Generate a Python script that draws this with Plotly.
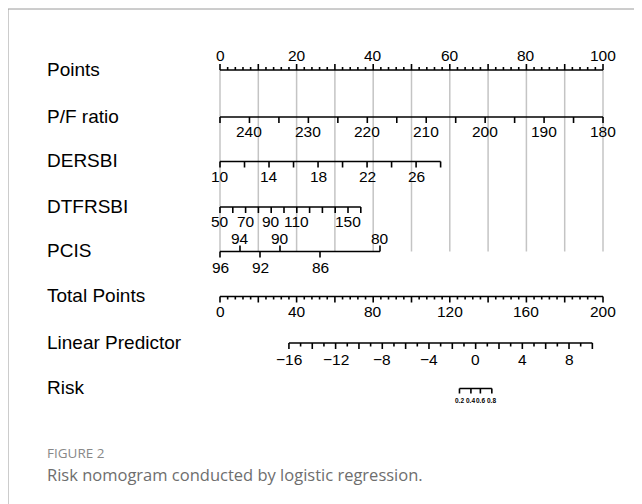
import math
import plotly.graph_objects as go

# the page body has an 8px margin, so the figure is drawn 8px in from the window corner
OFF = 8
W, H = 642 - OFF, 504 - OFF
PX0, PX100 = 220.0 - OFF, 603.0 - OFF   # pixel positions of 0 and 100 points
PPP = (PX100 - PX0) / 100.0             # pixels per point

# ---------------- data ----------------
row_names = ["Points", "P/F ratio", "DERSBI", "DTFRSBI", "PCIS",
             "Total Points", "Linear Predictor", "Risk"]

points_major = list(range(0, 101, 10))
points_minor = [v for v in range(0, 101, 2) if v % 10]
points_labels = [0, 20, 40, 60, 80, 100]

pf_ticks = [245, 240, 235, 230, 225, 220, 215, 210, 205, 200, 195, 190, 185, 180]
pf_labels = [240, 230, 220, 210, 200, 190, 180]

dersbi_ticks = [10, 12, 14, 16, 18, 20, 22, 24, 26, 28]
dersbi_labels = [10, 14, 18, 22, 26]

dtfrsbi_ticks = [50, 60, 70, 80, 90, 100, 110, 120, 130, 140, 150, 160]
dtfrsbi_labels = [50, 70, 90, 110, 150]

pcis_up = [94, 90, 80]
pcis_down = [96, 92, 86]

total_major = list(range(0, 201, 20))
total_minor = [v for v in range(0, 201, 4) if v % 20]
total_labels = [0, 40, 80, 120, 160, 200]

lp_ticks = list(range(-16, 11))
lp_labels = [-16, -12, -8, -4, 0, 4, 8]

risk_ticks = [0.2, 0.4, 0.6, 0.8]

# nomogram scales (value -> points)
def pf_pts(v): return (245 - v) * 100.0 / 65.0
def dersbi_pts(v): return (v - 10) * 3.2
def dtfrsbi_pts(v): return (v - 50) * 0.3342
def pcis_pts(v): return (96 - v) * 2.611
def total_pts(tp): return tp / 2.0
def lp_total(lp): return 133.5 + lp * 6.094
def lp_pts(lp): return total_pts(lp_total(lp))
def risk_pts(r): return lp_pts(math.log(r / (1 - r)))

# ---------------- layout positions (window pixels) ----------------
row_y = [70, 117, 161.5, 207, 251.5, 296.5, 343, 388.5]
row_y = [v - OFF for v in row_y]

def fmt(v):
    return str(v).replace("-", "\u2212")

lx, ly = [], []     # black lines
gx, gy = [], []     # grey reference lines
ann = []
FONT = "Liberation Sans, Arial, sans-serif"

def seg(x0, y0, x1, y1):
    lx.extend([x0, x1, None]); ly.extend([y0, y1, None])

def label(x, y, text, size=15.5):
    ann.append(dict(x=x, y=y, xref="x", yref="y", text=text, showarrow=False,
                    xanchor="center", yanchor="middle",
                    font=dict(size=size, color="black", family=FONT)))

# Points
y = row_y[0]
seg(0, y, 100, y)
for v in points_major:
    seg(v, y, v, y - 6)
    gx.extend([v, v, None]); gy.extend([y, row_y[4], None])
for v in points_minor:
    seg(v, y, v, y - 3)
for v in points_labels:
    label(v, y - 15, fmt(v))

# P/F ratio
y = row_y[1]
seg(pf_pts(pf_ticks[0]), y, pf_pts(pf_ticks[-1]), y)
for v in pf_ticks:
    seg(pf_pts(v), y, pf_pts(v), y + 6)
for v in pf_labels:
    label(pf_pts(v), y + 14.5, fmt(v))

# DERSBI
y = row_y[2]
seg(dersbi_pts(dersbi_ticks[0]), y, dersbi_pts(dersbi_ticks[-1]), y)
for v in dersbi_ticks:
    seg(dersbi_pts(v), y, dersbi_pts(v), y + 6)
for v in dersbi_labels:
    label(dersbi_pts(v), y + 15, fmt(v))

# DTFRSBI
y = row_y[3]
seg(dtfrsbi_pts(dtfrsbi_ticks[0]), y, dtfrsbi_pts(dtfrsbi_ticks[-1]), y)
for v in dtfrsbi_ticks:
    seg(dtfrsbi_pts(v), y, dtfrsbi_pts(v), y + 6)
for v in dtfrsbi_labels:
    label(dtfrsbi_pts(v), y + 14.5, fmt(v))

# PCIS
y = row_y[4]
allp = pcis_up + pcis_down
seg(pcis_pts(max(allp)), y, pcis_pts(min(allp)), y)
for v in pcis_up:
    seg(pcis_pts(v), y, pcis_pts(v), y - 6)
    label(pcis_pts(v), y - 13.5, fmt(v))
for v in pcis_down:
    seg(pcis_pts(v), y, pcis_pts(v), y + 6)
    label(pcis_pts(v), y + 16, fmt(v))

# Total Points
y = row_y[5]
seg(total_pts(0), y, total_pts(200), y)
for v in total_major:
    seg(total_pts(v), y, total_pts(v), y + 6)
for v in total_minor:
    seg(total_pts(v), y, total_pts(v), y + 3)
for v in total_labels:
    label(total_pts(v), y + 15, fmt(v))

# Linear Predictor
y = row_y[6]
seg(lp_pts(lp_ticks[0]), y, lp_pts(lp_ticks[-1]), y)
for v in lp_ticks:
    seg(lp_pts(v), y, lp_pts(v), y + (6 if v % 2 == 0 else 3.5))
for v in lp_labels:
    label(lp_pts(v), y + 16, fmt(v))

# Risk
y = row_y[7]
seg(risk_pts(risk_ticks[0]), y, risk_pts(risk_ticks[-1]), y)
for v in risk_ticks:
    seg(risk_pts(v), y, risk_pts(v), y + 5)
    label(risk_pts(v), y + 11.5, "<b>%s</b>" % v, size=6.5)

# row names
for name, yy in zip(row_names, row_y):
    ann.append(dict(x=(45 - OFF) / W, y=yy - 1, xref="paper", yref="y", text=name,
                    showarrow=False, xanchor="left", yanchor="middle",
                    font=dict(size=19, color="black", family=FONT)))

# caption
ann.append(dict(x=(45 - OFF) / W, y=453 - OFF, xref="paper", yref="y", text="FIGURE 2",
                showarrow=False, xanchor="left", yanchor="middle",
                font=dict(size=13.5, color="#888888", family="Open Sans, sans-serif")))
ann.append(dict(x=(45 - OFF) / W, y=474 - OFF, xref="paper", yref="y",
                text="Risk nomogram conducted by logistic regression.",
                showarrow=False, xanchor="left", yanchor="middle",
                font=dict(size=16.5, color="#6e6e6e", family="Open Sans, sans-serif")))

fig = go.Figure()
fig.add_trace(go.Scatter(x=gx, y=gy, mode="lines",
                         line=dict(color="#c4c4c4", width=1.5),
                         hoverinfo="skip", showlegend=False))
fig.add_trace(go.Scatter(x=lx, y=ly, mode="lines",
                         line=dict(color="black", width=1.6),
                         hoverinfo="skip", showlegend=False))

fig.update_layout(
    width=W, height=H,
    margin=dict(l=0, r=0, t=0, b=0),
    paper_bgcolor="white", plot_bgcolor="white",
    xaxis=dict(range=[-PX0 / PPP, (W - PX0) / PPP], visible=False, fixedrange=True),
    yaxis=dict(range=[H, 0], visible=False, fixedrange=True),
    annotations=ann,
    shapes=[
        dict(type="line", xref="paper", yref="paper", x0=0, x1=0,
             y0=0, y1=1 - 1 / H, line=dict(color="#9a9a9a", width=1)),
        dict(type="line", xref="paper", yref="paper", x0=0, x1=1,
             y0=1 - 1 / H, y1=1 - 1 / H, line=dict(color="#9a9a9a", width=1)),
    ],
)

fig.write_html("out.html")
